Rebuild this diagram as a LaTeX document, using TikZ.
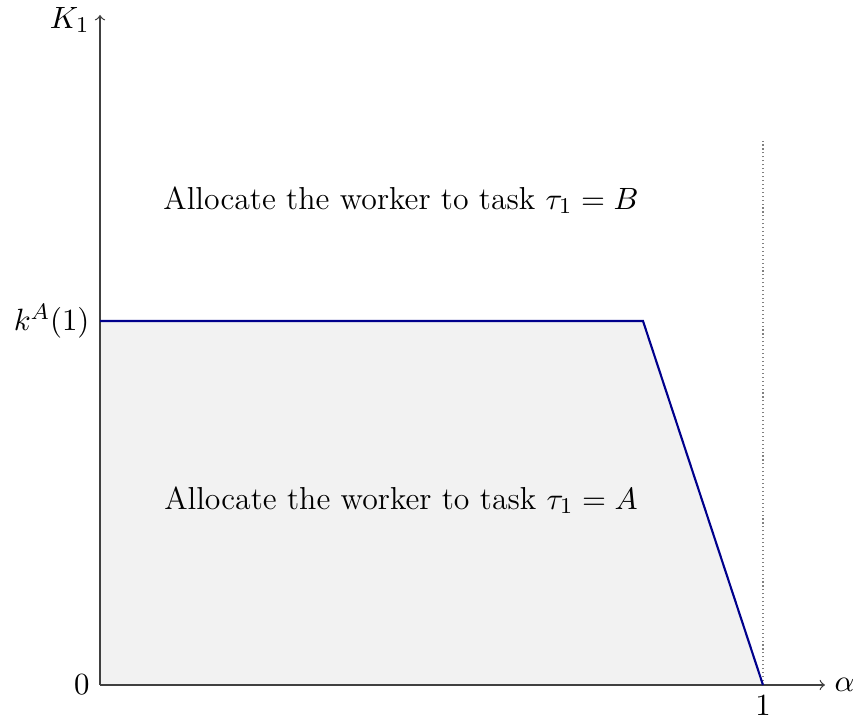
\documentclass[tikz,border=0pt]{standalone}
\tikzset{
  axis/.style={draw=black!75, line width=0.45pt, ->, >=to},
  bound/.style={draw=blue!55!black, line width=0.75pt, line join=miter},
  region/.style={fill=gray!10},
  lbl/.style={inner sep=0pt, font=\fontsize{11.3}{13.5}\selectfont},
}
\begin{document}
\begin{tikzpicture}[x=0.0125cm, y=-0.0125cm]
\useasboundingbox (0,0) rectangle (857,719);
\coordinate (O) at (100,685);
\coordinate (P) at (100,321);
\coordinate (Q) at (643,321);
\coordinate (R) at (763,685);
\coordinate (Xe) at (825,685);
\coordinate (Ye) at (100,15);
\coordinate (Dt) at (763,140);
\fill[region] (O) -- (P) -- (Q) -- (R) -- cycle;
\draw[densely dotted, gray, line width=0.4pt] (R) -- (Dt);
\draw[axis] (O) -- (Xe);
\draw[axis] (O) -- (Ye);
\draw[bound] (P) -- (Q) -- (R);
\node[lbl, anchor=east] (k1) at (90,20) {$K_1$};
\node[lbl, anchor=west] (al) at (834,685) {$\alpha$};
\node[lbl, anchor=east] (z) at (90,685) {$0$};
\node[lbl, anchor=north] (one) at (763,695) {$1$};
\node[lbl, anchor=east] (kA) at (90,321) {$k^A(1)$};
\node[lbl] (tB) at (401,200) {Allocate the worker to task $\tau_1 = B$};
\node[lbl] (tA) at (401,500) {Allocate the worker to task $\tau_1 = A$};
\end{tikzpicture}
\end{document}
